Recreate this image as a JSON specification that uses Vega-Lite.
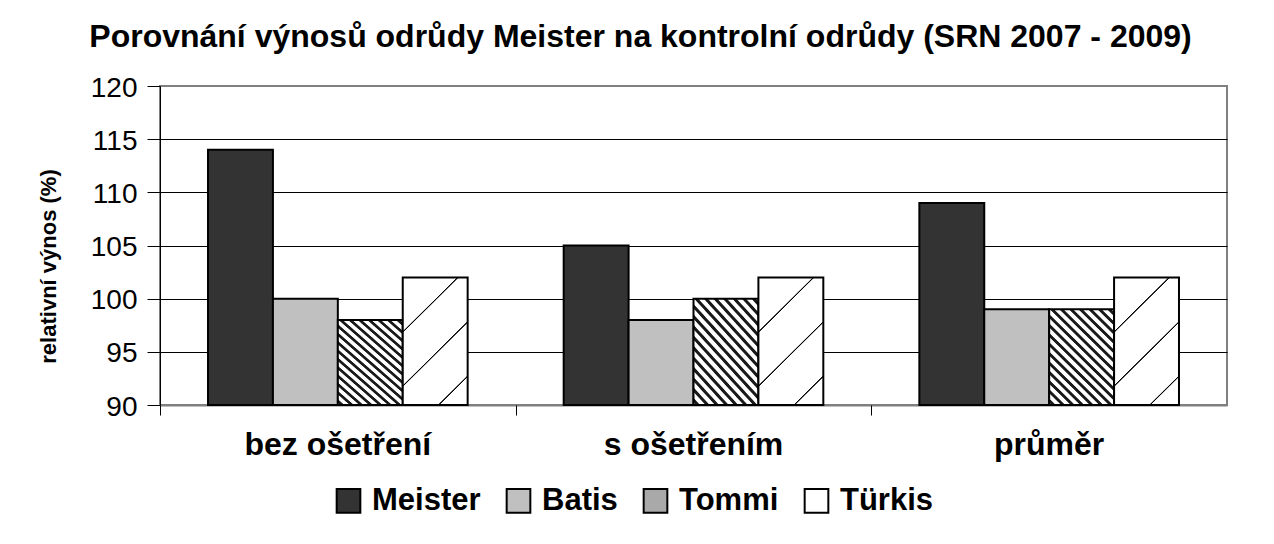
{
  "$schema": "https://vega.github.io/schema/vega-lite/v6.json",
  "width": 1067,
  "height": 319,
  "autosize": "none",
  "padding": {"left": 160, "top": 86, "right": 47, "bottom": 139},
  "background": "white",
  "title": {
    "text": "Porovnání výnosů odrůdy Meister na kontrolní odrůdy (SRN 2007 - 2009)",
    "font": "Liberation Sans",
    "fontSize": 32,
    "fontWeight": "bold",
    "color": "#000000",
    "anchor": "middle",
    "frame": "group",
    "baseline": "alphabetic",
    "dx": -53,
    "dy": 25,
    "offset": 20
  },
  "data": {
    "values": [
      {"kategorie": "bez ošetření", "odruda": "Meister", "vynos": 114},
      {"kategorie": "bez ošetření", "odruda": "Batis", "vynos": 100},
      {"kategorie": "bez ošetření", "odruda": "Tommi", "vynos": 98},
      {"kategorie": "bez ošetření", "odruda": "Türkis", "vynos": 102},
      {"kategorie": "s ošetřením", "odruda": "Meister", "vynos": 105},
      {"kategorie": "s ošetřením", "odruda": "Batis", "vynos": 98},
      {"kategorie": "s ošetřením", "odruda": "Tommi", "vynos": 100},
      {"kategorie": "s ošetřením", "odruda": "Türkis", "vynos": 102},
      {"kategorie": "průměr", "odruda": "Meister", "vynos": 109},
      {"kategorie": "průměr", "odruda": "Batis", "vynos": 99},
      {"kategorie": "průměr", "odruda": "Tommi", "vynos": 99},
      {"kategorie": "průměr", "odruda": "Türkis", "vynos": 102}
    ]
  },
  "resolve": {"axis": {"x": "independent"}},
  "layer": [
    {
      "mark": {"type": "bar", "stroke": "#000000"},
      "encoding": {
        "x": {
          "field": "kategorie",
          "type": "nominal",
          "sort": ["bez ošetření", "s ošetřením", "průměr"],
          "scale": {"paddingInner": 0.27, "paddingOuter": 0.135},
          "axis": {
            "orient": "bottom",
            "title": null,
            "ticks": false,
            "labelAngle": 0,
            "labelFont": "Liberation Sans",
            "labelFontSize": 32,
            "labelFontWeight": "bold",
            "labelColor": "#000000",
            "labelPadding": 24,
            "labelLimit": 0,
            "domainColor": "#808080",
            "domainWidth": 2,
            "grid": false
          }
        },
        "xOffset": {
          "field": "odruda",
          "type": "nominal",
          "sort": ["Meister", "Batis", "Tommi", "Türkis"],
          "scale": {"paddingInner": 0, "paddingOuter": 0}
        },
        "y": {
          "field": "vynos",
          "type": "quantitative",
          "scale": {"domain": [90, 120], "zero": false, "nice": false},
          "axis": {
            "values": [90, 95, 100, 105, 110, 115, 120],
            "title": "relativní výnos (%)",
            "titleFont": "Liberation Sans",
            "titleFontSize": 22,
            "titleFontWeight": "bold",
            "titleColor": "#000000",
            "titleAngle": -90,
            "titleAlign": "center",
            "titleBaseline": "middle",
            "titleX": -112,
            "titleY": 180,
            "labelFont": "Liberation Sans",
            "labelFontSize": 28,
            "labelColor": "#000000",
            "labelPadding": 10,
            "labelOffset": 2,
            "tickSize": 13,
            "tickColor": "#000000",
            "domainColor": "#000000",
            "grid": true,
            "gridColor": {"condition": {"test": "datum.value === 90 || datum.value === 120", "value": "#808080"}, "value": "#000000"},
            "gridWidth": 1,
            "gridOpacity": 1
          }
        },
        "y2": {"datum": 90},
        "fill": {
          "condition": [
            {
              "test": "datum.odruda === 'Tommi'",
              "value": {
                "gradient": "linear", "x1": 0, "y1": 1, "x2": 0.77, "y2": -0.154,
                "stops": [
                  {"offset": 0, "color": "#ffffff"},
                  {"offset": 0.0118, "color": "#ffffff"}, {"offset": 0.0188, "color": "#1a1a1a"}, {"offset": 0.0371, "color": "#1a1a1a"}, {"offset": 0.0441, "color": "#ffffff"},
                  {"offset": 0.0706, "color": "#ffffff"}, {"offset": 0.0776, "color": "#1a1a1a"}, {"offset": 0.0959, "color": "#1a1a1a"}, {"offset": 0.1029, "color": "#ffffff"},
                  {"offset": 0.1294, "color": "#ffffff"}, {"offset": 0.1365, "color": "#1a1a1a"}, {"offset": 0.1547, "color": "#1a1a1a"}, {"offset": 0.1618, "color": "#ffffff"},
                  {"offset": 0.1882, "color": "#ffffff"}, {"offset": 0.1953, "color": "#1a1a1a"}, {"offset": 0.2135, "color": "#1a1a1a"}, {"offset": 0.2206, "color": "#ffffff"},
                  {"offset": 0.2471, "color": "#ffffff"}, {"offset": 0.2541, "color": "#1a1a1a"}, {"offset": 0.2724, "color": "#1a1a1a"}, {"offset": 0.2794, "color": "#ffffff"},
                  {"offset": 0.3059, "color": "#ffffff"}, {"offset": 0.3129, "color": "#1a1a1a"}, {"offset": 0.3312, "color": "#1a1a1a"}, {"offset": 0.3382, "color": "#ffffff"},
                  {"offset": 0.3647, "color": "#ffffff"}, {"offset": 0.3718, "color": "#1a1a1a"}, {"offset": 0.3900, "color": "#1a1a1a"}, {"offset": 0.3971, "color": "#ffffff"},
                  {"offset": 0.4235, "color": "#ffffff"}, {"offset": 0.4306, "color": "#1a1a1a"}, {"offset": 0.4488, "color": "#1a1a1a"}, {"offset": 0.4559, "color": "#ffffff"},
                  {"offset": 0.4824, "color": "#ffffff"}, {"offset": 0.4894, "color": "#1a1a1a"}, {"offset": 0.5077, "color": "#1a1a1a"}, {"offset": 0.5147, "color": "#ffffff"},
                  {"offset": 0.5412, "color": "#ffffff"}, {"offset": 0.5482, "color": "#1a1a1a"}, {"offset": 0.5665, "color": "#1a1a1a"}, {"offset": 0.5735, "color": "#ffffff"},
                  {"offset": 0.6000, "color": "#ffffff"}, {"offset": 0.6071, "color": "#1a1a1a"}, {"offset": 0.6253, "color": "#1a1a1a"}, {"offset": 0.6324, "color": "#ffffff"},
                  {"offset": 0.6588, "color": "#ffffff"}, {"offset": 0.6659, "color": "#1a1a1a"}, {"offset": 0.6841, "color": "#1a1a1a"}, {"offset": 0.6912, "color": "#ffffff"},
                  {"offset": 0.7176, "color": "#ffffff"}, {"offset": 0.7247, "color": "#1a1a1a"}, {"offset": 0.7429, "color": "#1a1a1a"}, {"offset": 0.7500, "color": "#ffffff"},
                  {"offset": 0.7765, "color": "#ffffff"}, {"offset": 0.7835, "color": "#1a1a1a"}, {"offset": 0.8018, "color": "#1a1a1a"}, {"offset": 0.8088, "color": "#ffffff"},
                  {"offset": 0.8353, "color": "#ffffff"}, {"offset": 0.8424, "color": "#1a1a1a"}, {"offset": 0.8606, "color": "#1a1a1a"}, {"offset": 0.8676, "color": "#ffffff"},
                  {"offset": 0.8941, "color": "#ffffff"}, {"offset": 0.9012, "color": "#1a1a1a"}, {"offset": 0.9194, "color": "#1a1a1a"}, {"offset": 0.9265, "color": "#ffffff"},
                  {"offset": 0.9529, "color": "#ffffff"}, {"offset": 0.9600, "color": "#1a1a1a"}, {"offset": 0.9782, "color": "#1a1a1a"}, {"offset": 0.9853, "color": "#ffffff"},
                  {"offset": 1, "color": "#ffffff"}
                ]
              }
            },
            {
              "test": "datum.odruda === 'Türkis'",
              "value": {
                "gradient": "linear", "x1": 0, "y1": 0, "x2": 0.604, "y2": 1.199,
                "stops": [
                  {"offset": 0, "color": "#ffffff"},
                  {"offset": 0.279, "color": "#ffffff"}, {"offset": 0.283, "color": "#000000"}, {"offset": 0.287, "color": "#000000"}, {"offset": 0.291, "color": "#ffffff"},
                  {"offset": 0.561, "color": "#ffffff"}, {"offset": 0.565, "color": "#000000"}, {"offset": 0.569, "color": "#000000"}, {"offset": 0.573, "color": "#ffffff"},
                  {"offset": 0.844, "color": "#ffffff"}, {"offset": 0.848, "color": "#000000"}, {"offset": 0.852, "color": "#000000"}, {"offset": 0.856, "color": "#ffffff"},
                  {"offset": 1, "color": "#ffffff"}
                ]
              }
            }
          ],
          "field": "odruda",
          "type": "nominal",
          "sort": ["Meister", "Batis", "Tommi", "Türkis"],
          "scale": {
            "domain": ["Meister", "Batis", "Tommi", "Türkis"],
            "range": ["#333333", "#c0c0c0", "#a9a9a9", "#ffffff"]
          },
          "legend": {
            "orient": "none",
            "legendX": 173,
            "legendY": 399,
            "direction": "horizontal",
            "title": null,
            "padding": 0,
            "symbolType": "square",
            "symbolSize": 560,
            "labelFont": "Liberation Sans",
            "labelFontSize": 31,
            "labelFontWeight": "bold",
            "labelColor": "#000000",
            "labelOffset": 8,
            "labelLimit": 0,
            "columnPadding": 21,
            "encode": {
              "symbols": {
                "stroke": {"value": "#000000"},
                "strokeWidth": {"value": {"expr": "datum.value === 'Meister' || datum.value === 'Batis' ? 2 : 1"}}
              }
            }
          }
        },
        "strokeWidth": {
          "field": "odruda",
          "type": "nominal",
          "scale": {"domain": ["Meister", "Batis", "Tommi", "Türkis"], "range": [2, 2, 1, 1]},
          "legend": null
        }
      }
    },
    {
      "mark": {"type": "point", "opacity": 0},
      "encoding": {
        "x": {
          "field": "kategorie",
          "type": "nominal",
          "sort": ["bez ošetření", "s ošetřením", "průměr"],
          "axis": {
            "orient": "bottom",
            "title": null,
            "labels": false,
            "domain": false,
            "grid": false,
            "ticks": true,
            "bandPosition": 0,
            "tickOffset": -48,
            "tickSize": 10,
            "tickColor": "#000000",
            "tickWidth": 1
          }
        }
      }
    }
  ],
  "config": {
    "view": {"stroke": "#808080", "strokeWidth": 2},
    "font": "Liberation Sans"
  }
}
